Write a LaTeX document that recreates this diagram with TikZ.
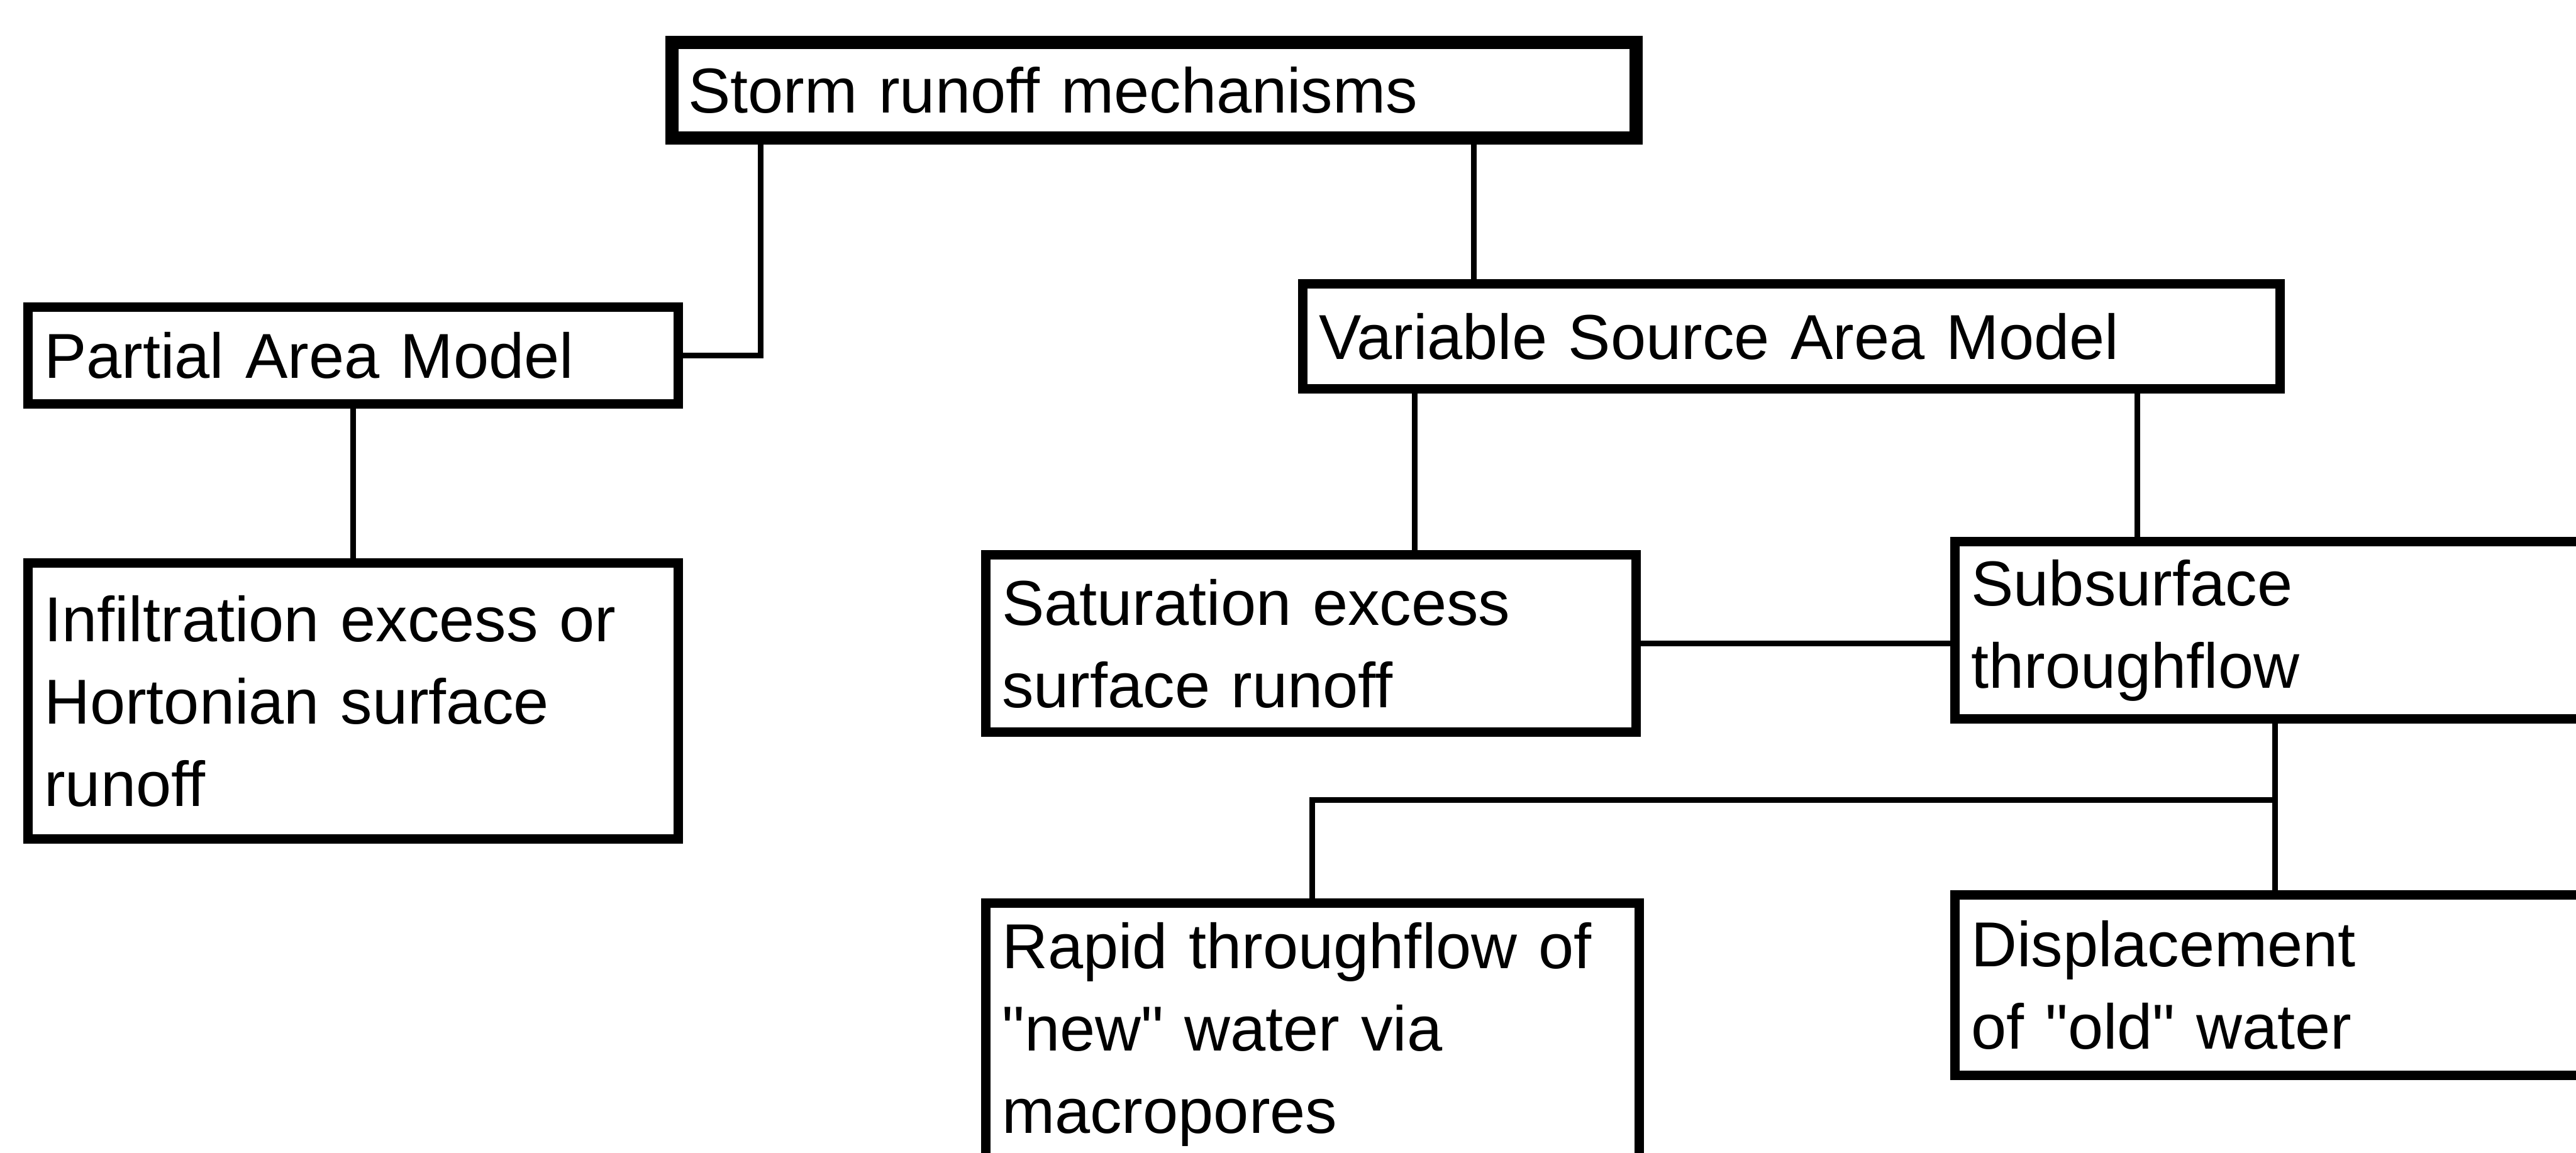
\documentclass[tikz,border=0pt]{standalone}
\usepackage{fontspec}
\setmainfont{Liberation Sans}
\usetikzlibrary{positioning}

\tikzset{
  box/.style={draw, line width=3.3pt, anchor=north west, inner xsep=0.2cm,
    inner ysep=0pt, align=left, font=\fontsize{22pt}{28.5pt}\selectfont},
  link/.style={line width=2pt}
}

\begin{document}
\begin{tikzpicture}[x=0.02cm,y=-0.02cm]
\useasboundingbox (0,0) rectangle (1568,702);
\clip (0,0) rectangle (1568,702);

% boxes
\node[box, line width=4.5pt, minimum width=11.74cm, minimum height=1.16cm, text width=11.34cm] (storm) at (405,22) {Storm runoff mechanisms};
\node[box, minimum width=7.92cm, minimum height=1.18cm, text width=7.52cm] (partial) at (14,184) {Partial Area Model};
\node[box, minimum width=7.92cm, minimum height=3.36cm, text width=7.52cm] (infilt) at (14,340) {Infiltration excess or\\Hortonian surface\\runoff};
\node[box, minimum width=11.9cm, minimum height=1.28cm, text width=11.5cm] (vsam) at (790,170) {Variable Source Area Model};
\node[box, minimum width=7.92cm, minimum height=2.16cm, text width=7.52cm] (satur) at (597,335) {Saturation excess\\surface runoff};
\node[box, minimum width=10cm, minimum height=2.16cm, text width=9.6cm] (subsurf) at (1187,327) {Subsurface\\throughflow};
\node[box, minimum width=7.96cm, minimum height=3.2cm, text width=7.56cm] (rapid) at (597,547) {Rapid throughflow of\\\textquotedbl new\textquotedbl{} water via\\macropores};
\node[box, minimum width=10cm, minimum height=2.2cm, text width=9.6cm] (displ) at (1187,542) {Displacement\\of \textquotedbl old\textquotedbl{} water};

% connectors
\coordinate (s1) at ([xshift=1.16cm]storm.south west);
\draw[link] (s1) |- (partial.east);
\coordinate (s2) at ([xshift=2.14cm]vsam.north west);
\draw[link] (s2) -- (s2 |- storm.south);
\draw[link] (partial.south) -- (infilt.north);
\coordinate (v1) at ([xshift=1.42cm]vsam.south west);
\draw[link] (v1) -- (v1 |- satur.north);
\coordinate (v2) at ([xshift=2.28cm]subsurf.north west);
\draw[link] (v2) -- (v2 |- vsam.south);
\draw[link] (satur.east) -- (satur.east -| subsurf.west);
\coordinate (b1) at ([xshift=3.96cm]subsurf.south west);
\draw[link] (b1) -- (b1 |- displ.north);
\coordinate (b2) at (b1 |- 0,487);
\draw[link] (b2) -| (rapid.north);
\end{tikzpicture}
\end{document}
